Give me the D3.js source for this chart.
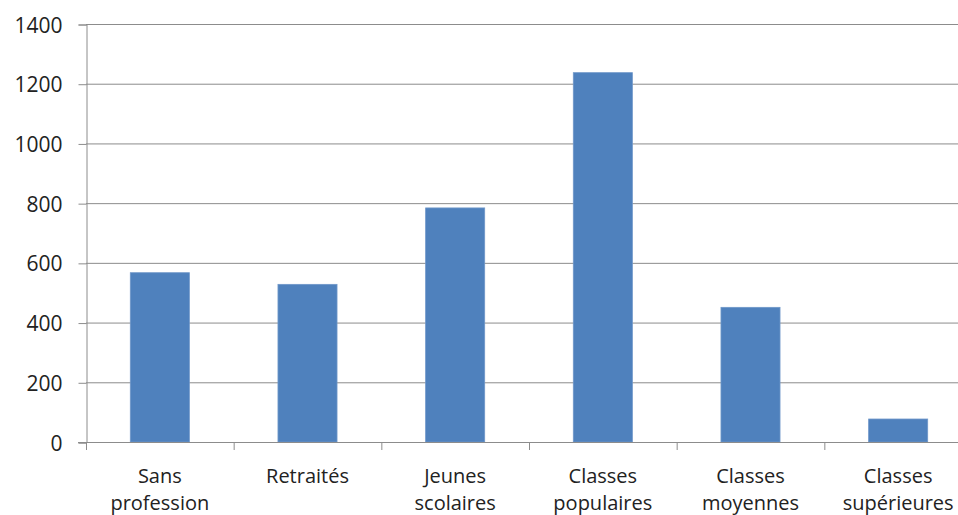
<!DOCTYPE html>
<html><head><meta charset="utf-8">
<script src="https://cdn.jsdelivr.net/npm/d3@7"></script>
<style>
html,body{margin:0;padding:0;background:#fff;overflow:hidden;}
svg text{font-family:"Open Sans","Noto Sans",sans-serif;fill:#222;}
</style></head>
<body><svg id="c" width="958" height="515"></svg>
<script>
const categories = [["Sans","profession"],["Retraités"],["Jeunes","scolaires"],["Classes","populaires"],["Classes","moyennes"],["Classes","supérieures"]];
const values = [567, 528, 784, 1237, 451, 77];
const yTicks = [0,200,400,600,800,1000,1200,1400];

(function(){
const svg = d3.select("#c");
const mL = 86, mR = 972, mT = 24, mB = 442;
const x = d3.scaleBand().domain(d3.range(categories.length)).range([mL, mR]).paddingInner(0.6).paddingOuter(0.3);
const y = d3.scaleLinear().domain([0,1400]).range([mB, mT]);

// gridlines
svg.append("g").selectAll("line").data(yTicks.filter(d=>d>0)).join("line")
  .attr("x1", mL).attr("x2", mR)
  .attr("y1", d=>y(d)+0.5).attr("y2", d=>y(d)+0.5)
  .attr("stroke", "#8c8c8c").attr("stroke-width", 1);

// y axis
const yAxis = d3.axisLeft(y).tickValues(yTicks).tickSize(8).tickPadding(16).tickFormat(d3.format("d"));
const gy = svg.append("g").attr("transform", `translate(${mL+0.5},0.5)`).call(yAxis);
gy.select(".domain").attr("stroke","#8c8c8c");
gy.selectAll(".tick line").attr("stroke","#8c8c8c");
gy.selectAll(".tick text").style("font-size","21px").style("fill","#222").attr("dy","0.36em");

// bars
svg.append("g").selectAll("rect").data(values).join("rect")
  .attr("x", (d,i)=>x(i)).attr("width", x.bandwidth())
  .attr("y", d=>y(d)).attr("height", d=>y(0)-y(d))
  .attr("fill", "#4f81bd").attr("stroke","#6f97c9").attr("stroke-width",0.8);

// x axis line and ticks
svg.append("line").attr("x1", mL-8).attr("x2", mR).attr("y1", mB+0.5).attr("y2", mB+0.5).attr("stroke","#8c8c8c");
svg.append("g").selectAll("line").data(d3.range(categories.length+1)).join("line")
  .attr("x1", i=>mL + i*(mR-mL)/categories.length + 0.5)
  .attr("x2", i=>mL + i*(mR-mL)/categories.length + 0.5)
  .attr("y1", mB).attr("y2", mB+8).attr("stroke","#8c8c8c");

// category labels
const lab = svg.append("g").selectAll("text").data(categories).join("text")
  .attr("text-anchor","middle").style("font-size","20px")
  .attr("x", (d,i)=>x(i)+x.bandwidth()/2).attr("y", 483);
lab.selectAll("tspan").data(d=>d).join("tspan")
  .attr("x", function(){ return this.parentNode.getAttribute("x"); })
  .attr("dy", (d,i)=> i===0 ? 0 : 27).text(d=>d);
})();
</script></body></html>
